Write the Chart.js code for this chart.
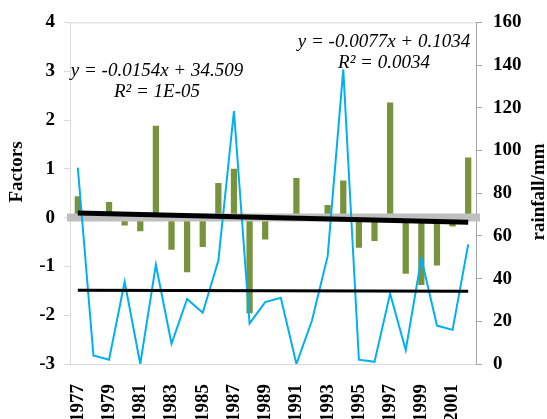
<!DOCTYPE html>
<html>
<head>
<meta charset="utf-8">
<script src="https://cdn.jsdelivr.net/npm/chart.js@4"></script>
<style>
  body { margin: 0; background: #fff; }
</style>
</head>
<body>
<canvas id="FactorsChart" width="547" height="419"></canvas>
<script>
const ctx = document.getElementById('FactorsChart');

const years = ['1977', '1978', '1979', '1980', '1981', '1982', '1983', '1984', '1985', '1986',
    '1987', '1988', '1989', '1990', '1991', '1992', '1993', '1994', '1995', '1996',
    '1997', '1998', '1999', '2000', '2001', '2002'];

// factor values (left axis)
const factors = [0.44, 0, 0.32, -0.16, -0.28, 1.88, -0.66, -1.12, -0.6, 0.71,
    1.0, -1.96, -0.45, 0, 0.81, 0, 0.26, 0.76, -0.62, -0.48,
    2.36, -1.15, -1.38, -0.98, -0.18, 1.23];

// rainfall in mm (right axis)
const rainfall = [92, 4, 2, 38.5, 0, 46.5, 9.5, 30.5, 24, 48.5,
    118.5, 19, 29, 31, 0, 20.5, 50.5, 138, 2, 1,
    33, 6.5, 49.5, 18, 16, 56];

// trend line end points
const factorTrend = [0.096, null, null, null, null, null, null, null, null, null, null, null, null,
    null, null, null, null, null, null, null, null, null, null, null, null, -0.097];
const rainTrend = [34.49, null, null, null, null, null, null, null, null, null, null, null, null,
    null, null, null, null, null, null, null, null, null, null, null, null, 34.11];

const factorTicks = [-3, -2, -1, 0, 1, 2, 3, 4];
const rainTicks = [0, 20, 40, 60, 80, 100, 120, 140, 160];

const serif = "'Liberation Serif', 'Times New Roman', serif";

const extras = {
    id: 'extras',
    afterDatasetDraw(chart, args) {
        if (args.index !== 0) return;
        const c = chart.ctx;
        const area = chart.chartArea;
        const y = chart.scales.y.getPixelForValue(0);
        c.save();
        c.strokeStyle = '#bfbfbf';
        c.lineWidth = 8;
        c.beginPath();
        c.moveTo(area.left - 3, y);
        c.lineTo(area.right + 4, y);
        c.stroke();
        c.restore();
    },
    afterDraw(chart) {
        const c = chart.ctx;
        const area = chart.chartArea;
        c.save();
        c.strokeStyle = '#d9d9d9';
        c.lineWidth = 1;
        c.beginPath();
        c.moveTo(area.left, area.top + 0.5);
        c.lineTo(area.right, area.top + 0.5);
        c.stroke();

        // axis titles, both reading bottom to top
        c.fillStyle = '#000';
        c.font = 'bold 19px ' + serif;
        c.textAlign = 'center';
        c.textBaseline = 'middle';
        c.save();
        c.translate(17, 172);
        c.rotate(-Math.PI / 2);
        c.fillText('Factors', 0, 0);
        c.restore();
        c.save();
        c.translate(539, 192);
        c.rotate(-Math.PI / 2);
        c.fillText('rainfall/mm', 0, 0);
        c.restore();

        // trend equations
        c.font = 'italic 19px ' + serif;
        c.fillText('y = -0.0154x + 34.509', 157, 71);
        c.fillText('R\u00b2 = 1E-05', 157, 92);
        c.fillText('y = -0.0077x + 0.1034', 384, 42);
        c.fillText('R\u00b2 = 0.0034', 384, 63);
        c.restore();
    }
};

new Chart(ctx, {
    type: 'bar',
    data: {
        labels: years,
        datasets: [
            {
                label: 'Factors',
                data: factors,
                backgroundColor: '#77933c',
                yAxisID: 'y',
                barPercentage: 0.4,
                categoryPercentage: 1,
                order: 4
            },
            {
                type: 'line',
                label: 'Rainfall',
                data: rainfall,
                borderColor: '#00b0f0',
                borderWidth: 2,
                pointRadius: 0,
                tension: 0,
                yAxisID: 'y1',
                order: 3
            },
            {
                type: 'line',
                label: 'Rainfall trend',
                data: rainTrend,
                borderColor: '#000',
                borderWidth: 3,
                pointRadius: 0,
                spanGaps: true,
                yAxisID: 'y1',
                order: 2
            },
            {
                type: 'line',
                label: 'Factors trend',
                data: factorTrend,
                borderColor: '#000',
                borderWidth: 5,
                pointRadius: 0,
                spanGaps: true,
                yAxisID: 'y',
                order: 1
            }
        ]
    },
    options: {
        responsive: false,
        animation: false,
        layout: { padding: { top: 19, left: 0, right: 0, bottom: 0 } },
        plugins: {
            legend: { display: false },
            tooltip: { enabled: false }
        },
        scales: {
            x: {
                offset: true,
                grid: { display: false },
                border: { display: true, color: '#d9d9d9' },
                ticks: {
                    autoSkip: false,
                    maxRotation: 90,
                    minRotation: 90,
                    padding: 12,
                    color: '#000',
                    font: { family: serif, size: 19, weight: 'bold' },
                    callback: function (value, index) {
                        return index % 2 === 0 ? years[index] : '';
                    }
                },
                afterFit: (scale) => { scale.height = 55; }
            },
            y: {
                position: 'left',
                min: -3,
                max: 4,
                afterBuildTicks: (scale) => { scale.ticks = factorTicks.map(v => ({ value: v })); },
                grid: { drawOnChartArea: false, color: '#d9d9d9', tickLength: 6 },
                border: { color: '#d9d9d9' },
                ticks: {
                    color: '#000',
                    padding: 9,
                    font: { family: serif, size: 19, weight: 'bold' }
                },
                afterFit: (scale) => { scale.width = 70; }
            },
            y1: {
                position: 'right',
                min: 0,
                max: 160,
                afterBuildTicks: (scale) => { scale.ticks = rainTicks.map(v => ({ value: v })); },
                grid: { drawOnChartArea: false, color: '#a6a6a6', tickLength: 6 },
                border: { color: '#a6a6a6' },
                ticks: {
                    color: '#000',
                    padding: 11,
                    font: { family: serif, size: 19, weight: 'bold' }
                },
                afterFit: (scale) => { scale.width = 71; }
            }
        }
    },
    plugins: [extras]
});
</script>
</body>
</html>
